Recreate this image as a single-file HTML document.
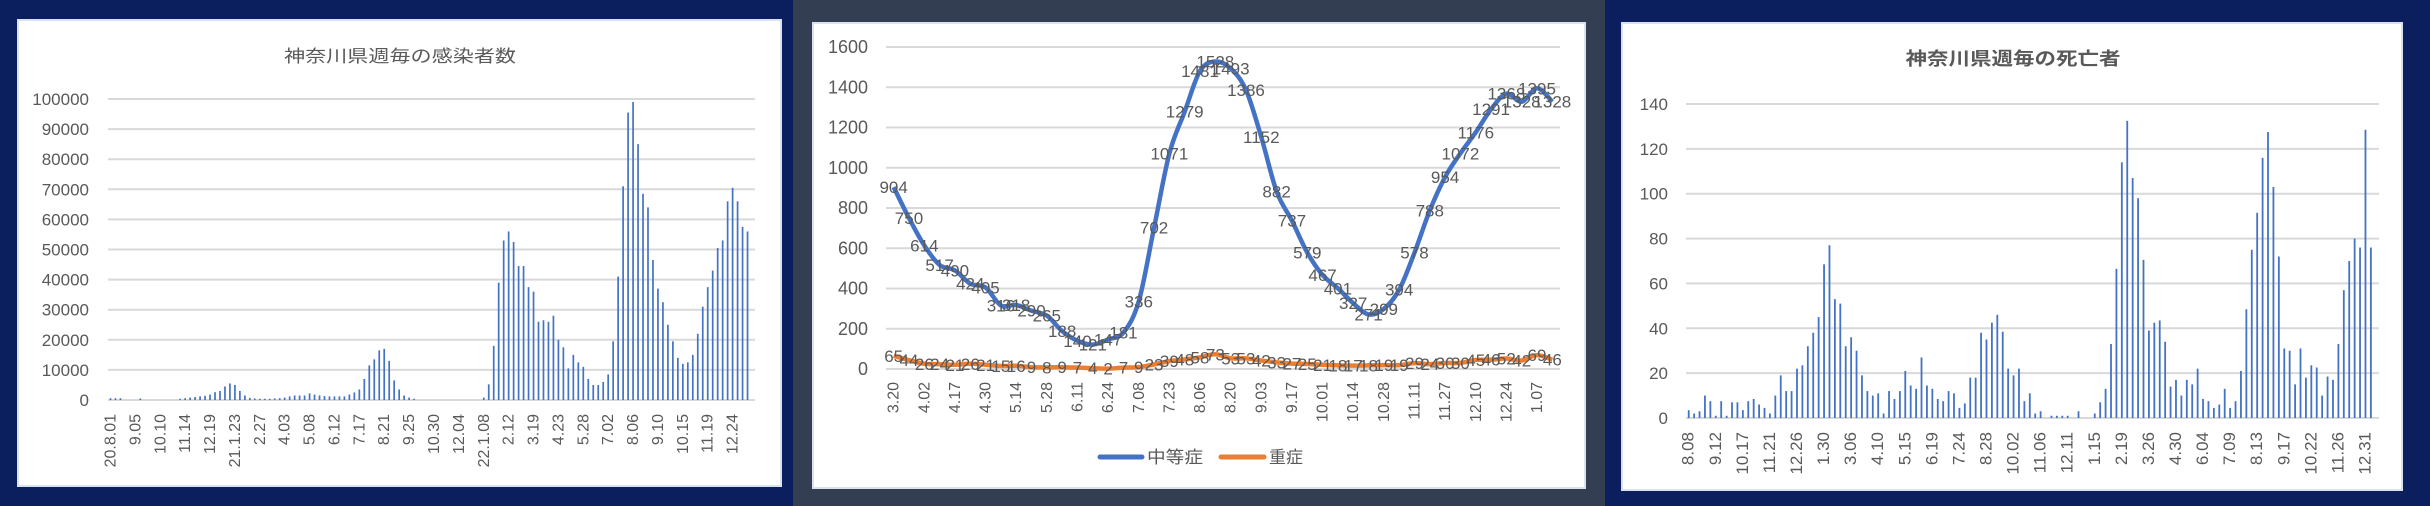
<!DOCTYPE html>
<html><head><meta charset="utf-8"><style>
html,body{margin:0;padding:0;width:2430px;height:506px;overflow:hidden;background:#0b1f5e}
svg{display:block}
text{font-family:"Liberation Sans","Noto Sans CJK JP",sans-serif;fill:#595959}
</style></head><body>
<svg id="root" width="2430" height="506" viewBox="0 0 2430 506" xmlns="http://www.w3.org/2000/svg">
<rect x="0" y="0" width="793" height="506" fill="#0b1f5e"/>
<rect x="793" y="0" width="812" height="506" fill="#333e52"/>
<rect x="1605" y="0" width="825" height="506" fill="#0b1f5e"/>
<rect x="18" y="20" width="763" height="466" fill="#fff" stroke="#dbe2ee" stroke-width="2"/>
<rect x="813" y="23" width="772" height="465" fill="#fff" stroke="#dbe2ee" stroke-width="2"/>
<rect x="1622" y="23" width="780" height="467" fill="#fff" stroke="#dbe2ee" stroke-width="2"/>
<text x="400" y="62" text-anchor="middle" font-size="17" textLength="232" lengthAdjust="spacingAndGlyphs">神奈川県週毎の感染者数</text>
<text x="2013" y="65" text-anchor="middle" font-size="18" font-weight="bold" textLength="215" lengthAdjust="spacingAndGlyphs">神奈川県週毎の死亡者</text>
<g>
<line x1="1100" y1="457" x2="1142" y2="457" stroke="#4472c4" stroke-width="5" stroke-linecap="round"/>
<text x="1147" y="463" font-size="17" textLength="56" lengthAdjust="spacingAndGlyphs">中等症</text>
<line x1="1221" y1="457" x2="1264" y2="457" stroke="#ed7d31" stroke-width="5" stroke-linecap="round"/>
<text x="1269" y="463" font-size="17" textLength="34" lengthAdjust="spacingAndGlyphs">重症</text>
</g>
</svg>
<script>
// ---- Chart 1 data: weekly infections ----
const c1Values = [600,600,600,0,0,0,500,0,0,0,0,0,0,0,400,600,800,1000,1200,1400,1800,2600,3000,4500,5500,5000,3000,1500,700,500,400,400,400,500,600,800,1200,1500,1500,1500,2200,1800,1500,1300,1200,1200,1200,1200,1800,2500,3500,7000,11500,13500,16500,17000,13000,6500,3500,1500,800,400,0,0,0,0,0,0,0,0,0,0,0,0,0,800,5200,18000,39000,53000,56000,52500,44500,44500,37500,36000,26000,26500,26000,28000,20000,17500,10500,15000,12500,11000,7000,5000,5000,6000,8500,19500,41000,71000,95500,99000,85000,68500,64000,46500,37000,32500,25000,19500,14000,12000,12500,15000,22000,31000,37500,43000,50500,53000,66000,70500,66000,57500,56000];
const c1TickLabels = ["20.8.01","9.05","10.10","11.14","12.19","21.1.23","2.27","4.03","5.08","6.12","7.17","8.21","9.25","10.30","12.04","22.1.08","2.12","3.19","4.23","5.28","7.02","8.06","9.10","10.15","11.19","12.24"];
const c1YTicks = [0,10000,20000,30000,40000,50000,60000,70000,80000,90000,100000];
// ---- Chart 2 data: moderate / severe ----
const c2TickLabels = ["3.20","4.02","4.17","4.30","5.14","5.28","6.11","6.24","7.08","7.23","8.06","8.20","9.03","9.17","10.01","10.14","10.28","11.11","11.27","12.10","12.24","1.07"];
const c2Moderate = [904,750,614,517,490,424,405,316,318,290,265,188,140,121,147,181,336,702,1071,1279,1481,1528,1493,1386,1152,882,737,579,467,401,327,271,299,394,578,788,954,1072,1176,1291,1368,1328,1395,1328];
const c2Severe = [65,44,26,24,21,26,21,15,16,9,8,9,7,4,2,7,9,23,39,48,58,73,53,53,42,33,27,25,21,18,17,18,19,19,29,24,30,30,45,46,52,42,69,46];
const c2YTicks = [0,200,400,600,800,1000,1200,1400,1600];
// ---- Chart 3 data: weekly deaths ----
const c3Values = [3.5,2,3,10,7.5,1,7.5,1,7,7,3.5,7.5,8.5,6,4.5,2,10,19,12,12,22,23.5,32,38,45,68.5,77,53,51,32,36,30,19,12,10,11,2,12,8.5,12,21,14.5,13,27,14.5,13,8.5,7.5,12,11,4.5,6.5,18,18,38,35,42.5,46,38.5,22,19,22,7.5,11,2,3,0,1,1,1,1,0,3,0,0,2,7,13,33,66.5,114,132.5,107,98,70.5,39,42.5,43.5,34,14,17,10,17,15,22,8.5,7.5,4.5,6,13,4.5,7.5,21,48.5,75,91.5,116,127.5,103,72,31,30,15,31,18,23.5,22.5,10,18.5,17,33,57,70,80,76,128.5,76];
const c3TickLabels = ["8.08","9.12","10.17","11.21","12.26","1.30","3.06","4.10","5.15","6.19","7.24","8.28","10.02","11.06","12.11","1.15","2.19","3.26","4.30","6.04","7.09","8.13","9.17","10.22","11.26","12.31"];
const c3YTicks = [0,20,40,60,80,100,120,140];

const NS = 'http://www.w3.org/2000/svg';
const root = document.getElementById('root');
function mk(tag, attrs, parent) {
  const el = document.createElementNS(NS, tag);
  for (const k in attrs) el.setAttribute(k, attrs[k]);
  (parent || root).appendChild(el);
  return el;
}
function linScale(d0, d1, r0, r1) { return v => r0 + (v - d0) / (d1 - d0) * (r1 - r0); }

function drawBarChart(prefix, values, tickLabels, yTicks, ymax, x0, x1, yTop, yBot, slots, yLabelX, labelTop, fontSize, barW) {
  const g = mk('g', {});
  
  
  const y = linScale(0, ymax, yBot, yTop);
  const band = (x1 - x0) / slots;
  const xc = i => x0 + band * (i + 0.5);
  yTicks.forEach(t => {
    const ln = mk('line', {x1: x0, x2: x1, y1: y(t), y2: y(t), stroke: '#d9d9d9', 'stroke-width': 2}, g);
    
    
    const tx = mk('text', {x: yLabelX, y: y(t) + 6, 'text-anchor': 'end', 'font-size': 17}, g);
    tx.textContent = t;
    
    
  });
  values.forEach((v, i) => {
    const b = mk('rect', {x: xc(i) - barW / 2, y: y(v), width: barW, height: Math.max(0, yBot - y(v)), fill: '#4472c4'}, g);
    
    
  });
  tickLabels.forEach((lab, k) => {
    const cx = xc(k * 5) + 5;
    const tx = mk('text', {x: cx, y: labelTop, 'text-anchor': 'end', 'font-size': fontSize, transform: 'rotate(-90 ' + cx + ' ' + labelTop + ')'}, g);
    tx.textContent = lab;
    
    
  });
}

drawBarChart('infections', c1Values, c1TickLabels, c1YTicks, 100000, 108, 755, 99, 400, 130, 89, 414, 16, 1.7);
drawBarChart('deaths', c3Values, c3TickLabels, c3YTicks, 140, 1686, 2379, 104, 418, 128, 1668, 432, 17, 1.8);

// ---- Chart 2 line chart ----
(function () {
  const x0 = 886, x1 = 1560, yTop = 47, yBot = 369;
  const n = c2Moderate.length;
  const band = (x1 - x0) / n;
  const xc = i => x0 + band * (i + 0.5);
  const y = linScale(0, 1600, yBot, yTop);
  const g = mk('g', {});
  
  
  c2YTicks.forEach(t => {
    const ln = mk('line', {x1: x0, x2: x1, y1: y(t), y2: y(t), stroke: '#d9d9d9', 'stroke-width': 2}, g);
    
    
    const tx = mk('text', {x: 868, y: y(t) + 6, 'text-anchor': 'end', 'font-size': 18}, g);
    tx.textContent = t;
    
    
  });
  c2TickLabels.forEach((lab, k) => {
    const cx = xc(k * 2) + 5, ty = 382;
    const tx = mk('text', {x: cx, y: ty, 'text-anchor': 'end', 'font-size': 16, transform: 'rotate(-90 ' + cx + ' ' + ty + ')'}, g);
    tx.textContent = lab;
    
    
  });
  function smooth(vals) {
    const p = vals.map((v, i) => [xc(i), y(v)]);
    let d = 'M' + p[0][0] + ',' + p[0][1];
    for (let i = 0; i < p.length - 1; i++) {
      const a = p[Math.max(0, i - 1)], b = p[i], c = p[i + 1], e = p[Math.min(p.length - 1, i + 2)];
      const c1 = [b[0] + (c[0] - a[0]) / 6, b[1] + (c[1] - a[1]) / 6];
      const c2 = [c[0] - (e[0] - b[0]) / 6, c[1] - (e[1] - b[1]) / 6];
      d += ' C' + c1[0] + ',' + c1[1] + ' ' + c2[0] + ',' + c2[1] + ' ' + c[0] + ',' + c[1];
    }
    return d;
  }
  const pm = mk('path', {d: smooth(c2Moderate), fill: 'none', stroke: '#4472c4', 'stroke-width': 4.5, 'stroke-linejoin': 'round'}, g);
  
  
  const ps = mk('path', {d: smooth(c2Severe), fill: 'none', stroke: '#ed7d31', 'stroke-width': 4.5, 'stroke-linejoin': 'round'}, g);
  
  
  c2Moderate.forEach((v, i) => {
    const tx = mk('text', {x: xc(i), y: y(v) + 6, 'text-anchor': 'middle', 'font-size': 17, fill: '#404040'}, g);
    tx.textContent = v;
    
    
  });
  c2Severe.forEach((v, i) => {
    const tx = mk('text', {x: xc(i), y: y(v) + 6, 'text-anchor': 'middle', 'font-size': 17, fill: '#404040'}, g);
    tx.textContent = v;
    
    
  });
})();
</script>
</body></html>
